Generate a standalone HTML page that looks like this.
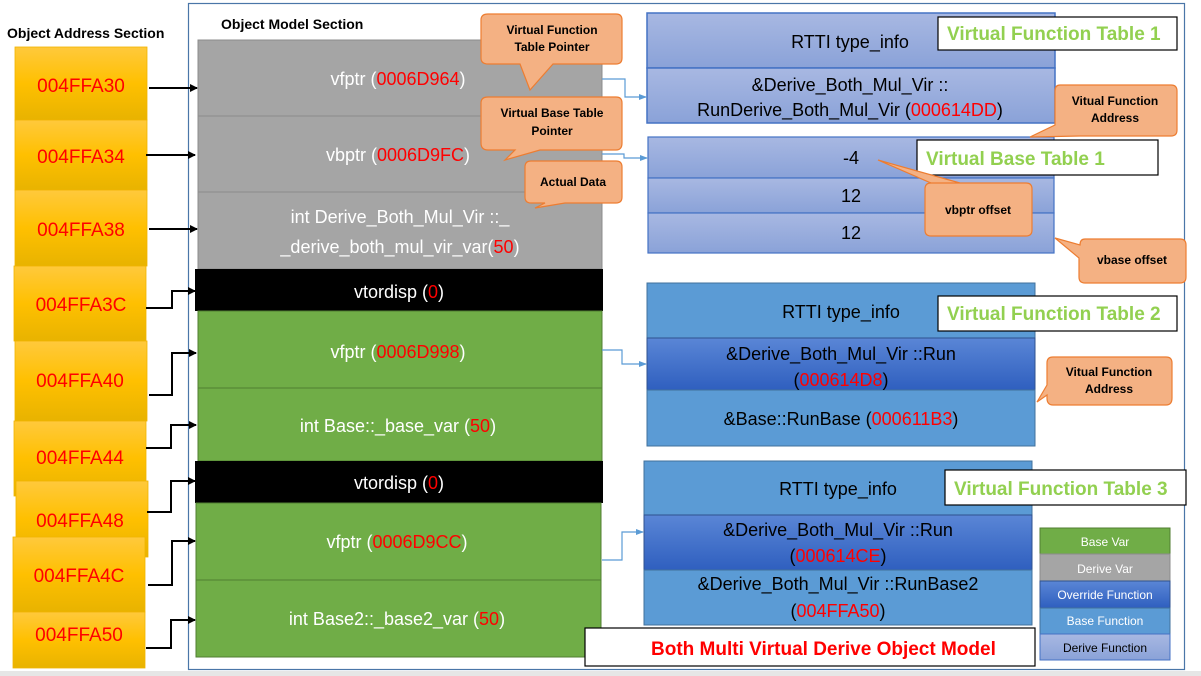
<!DOCTYPE html>
<html><head><meta charset="utf-8"><style>
body{margin:0;background:#fff;}
svg{display:block;font-family:"Liberation Sans",sans-serif;}
</style></head><body>
<svg width="1201" height="676" viewBox="0 0 1201 676" xmlns="http://www.w3.org/2000/svg">
<defs>
<linearGradient id="yel" x1="0" y1="0" x2="0" y2="1"><stop offset="0" stop-color="#ffc93c"/><stop offset="0.5" stop-color="#ffc000"/><stop offset="1" stop-color="#e8b300"/></linearGradient>
<linearGradient id="lav" x1="0" y1="0" x2="0" y2="1"><stop offset="0" stop-color="#a8b8e2"/><stop offset="1" stop-color="#8aa2d8"/></linearGradient>
<linearGradient id="dk" x1="0" y1="0" x2="0" y2="1"><stop offset="0" stop-color="#5a86d6"/><stop offset="1" stop-color="#2f5fbf"/></linearGradient>
<marker id="ab" markerWidth="8" markerHeight="8" refX="7" refY="4" orient="auto" markerUnits="userSpaceOnUse"><path d="M0,0 L8,4 L0,8 z" fill="#000"/></marker>
<marker id="ablue" markerWidth="8" markerHeight="8" refX="7" refY="4" orient="auto" markerUnits="userSpaceOnUse"><path d="M0,1 L8,4 L0,7 z" fill="#5b9bd5"/></marker>
</defs>
<rect x="0" y="0" width="1201" height="676" fill="#fff"/>
<rect x="188.5" y="3.5" width="996" height="666" fill="none" stroke="#4a76a8" stroke-width="1.2"/>
<rect x="0" y="671" width="1201" height="5" fill="#e6e6e6"/>

<text x="7" y="38" font-size="14" font-weight="bold">Object Address Section</text>
<text x="221" y="29" font-size="14" font-weight="bold">Object Model Section</text>

<g stroke="#f0b400" stroke-width="0.8" fill="url(#yel)">
<rect x="15" y="47" width="132" height="73"/>
<rect x="15" y="120" width="132" height="70"/>
<rect x="15" y="190" width="132" height="76"/>
<rect x="14" y="266" width="132" height="75"/>
<rect x="15" y="341" width="132" height="80"/>
<rect x="14" y="421" width="132" height="75"/>
<rect x="16" y="481" width="132" height="76"/>
<rect x="13" y="537" width="132" height="75"/>
<rect x="13" y="612" width="132" height="56"/>
</g>
<g fill="#ff0000" font-size="19" text-anchor="middle">
<text x="81" y="92">004FFA30</text>
<text x="81" y="163">004FFA34</text>
<text x="81" y="236">004FFA38</text>
<text x="81" y="311">004FFA3C</text>
<text x="80" y="387">004FFA40</text>
<text x="80" y="464">004FFA44</text>
<text x="80" y="527">004FFA48</text>
<text x="79" y="582">004FFA4C</text>
<text x="79" y="641">004FFA50</text>
</g>

<rect x="198" y="40" width="404" height="76" fill="#a5a5a5" stroke="#8c8c8c"/>
<rect x="198" y="116" width="404" height="76" fill="#a5a5a5" stroke="#8c8c8c"/>
<rect x="198" y="192" width="404" height="77" fill="#a5a5a5" stroke="#8c8c8c"/>
<rect x="195" y="269" width="408" height="42" fill="#000"/>
<rect x="198" y="311" width="404" height="77" fill="#70ad47" stroke="#507e32"/>
<rect x="198" y="388" width="404" height="73" fill="#70ad47" stroke="#507e32"/>
<rect x="195" y="461" width="408" height="42" fill="#000"/>
<rect x="196" y="503" width="405" height="77" fill="#70ad47" stroke="#507e32"/>
<rect x="196" y="580" width="405" height="77" fill="#70ad47" stroke="#507e32"/>
<g fill="#fff" font-size="18" text-anchor="middle">
<text x="398" y="85">vfptr (<tspan fill="#f00">0006D964</tspan>)</text>
<text x="398" y="161">vbptr (<tspan fill="#f00">0006D9FC</tspan>)</text>
<text x="400" y="223">int Derive_Both_Mul_Vir ::_</text>
<text x="400" y="253">_derive_both_mul_vir_var(<tspan fill="#f00">50</tspan>)</text>
<text x="399" y="298">vtordisp (<tspan fill="#f00">0</tspan>)</text>
<text x="398" y="358">vfptr (<tspan fill="#f00">0006D998</tspan>)</text>
<text x="398" y="432">int Base::_base_var (<tspan fill="#f00">50</tspan>)</text>
<text x="399" y="489">vtordisp (<tspan fill="#f00">0</tspan>)</text>
<text x="397" y="548">vfptr (<tspan fill="#f00">0006D9CC</tspan>)</text>
<text x="397" y="625">int Base2::_base2_var (<tspan fill="#f00">50</tspan>)</text>
</g>

<g stroke="#000" stroke-width="2" fill="none" marker-end="url(#ab)">
<path d="M149,88 H197"/>
<path d="M146,155 H195"/>
<path d="M149,229 H197"/>
<path d="M146,308 H172 V291 H195"/>
<path d="M149,395 H172 V353 H196"/>
<path d="M146,448 H171 V425 H196"/>
<path d="M147,512 H171 V481 H195"/>
<path d="M148,585 H172 V541 H195"/>
<path d="M146,648 H171 V620 H195"/>
</g>

<rect x="647" y="13" width="408" height="55" fill="url(#lav)" stroke="#4472c4" stroke-width="1.5"/>
<rect x="647" y="68" width="408" height="55" fill="url(#lav)" stroke="#4472c4" stroke-width="1.5"/>
<g font-size="18" text-anchor="middle" fill="#000">
<text x="850" y="48">RTTI type_info</text>
<text x="850" y="91">&amp;Derive_Both_Mul_Vir ::</text>
<text x="850" y="116">RunDerive_Both_Mul_Vir (<tspan fill="#f00">000614DD</tspan>)</text>
</g>
<rect x="648" y="137" width="406" height="41" fill="url(#lav)" stroke="#4472c4" stroke-width="1.2"/>
<rect x="648" y="178" width="406" height="35" fill="url(#lav)" stroke="#4472c4" stroke-width="1.2"/>
<rect x="648" y="213" width="406" height="40" fill="url(#lav)" stroke="#4472c4" stroke-width="1.2"/>
<g font-size="18" text-anchor="middle">
<text x="851" y="164">-4</text>
<text x="851" y="202">12</text>
<text x="851" y="239">12</text>
</g>
<rect x="647" y="283" width="388" height="55" fill="#5b9bd5" stroke="#41719c"/>
<rect x="647" y="338" width="388" height="52" fill="url(#dk)" stroke="#2f528f"/>
<rect x="647" y="390" width="388" height="56" fill="#5b9bd5" stroke="#41719c"/>
<g font-size="18" text-anchor="middle">
<text x="841" y="318">RTTI type_info</text>
<text x="841" y="360">&amp;Derive_Both_Mul_Vir ::Run</text>
<text x="841" y="386">(<tspan fill="#f00">000614D8</tspan>)</text>
<text x="841" y="425">&amp;Base::RunBase (<tspan fill="#f00">000611B3</tspan>)</text>
</g>
<rect x="644" y="461" width="388" height="54" fill="#5b9bd5" stroke="#41719c"/>
<rect x="644" y="515" width="388" height="55" fill="url(#dk)" stroke="#2f528f"/>
<rect x="644" y="570" width="388" height="55" fill="#5b9bd5" stroke="#41719c"/>
<g font-size="18" text-anchor="middle">
<text x="838" y="495">RTTI type_info</text>
<text x="838" y="536">&amp;Derive_Both_Mul_Vir ::Run</text>
<text x="838" y="562">(<tspan fill="#f00">000614CE</tspan>)</text>
<text x="838" y="590">&amp;Derive_Both_Mul_Vir ::RunBase2</text>
<text x="838" y="617">(<tspan fill="#f00">004FFA50</tspan>)</text>
</g>

<g stroke="#5b9bd5" stroke-width="1.2" fill="none" marker-end="url(#ablue)">
<path d="M602,79 H625 V97 H646"/>
<path d="M602,154 H624 V158 H647"/>
<path d="M602,350 H622 V364 H646"/>
<path d="M602,560 H622 V532 H643"/>
</g>

<g fill="#fff" stroke="#000" stroke-width="1.2">
<rect x="938" y="17" width="239" height="33"/>
<rect x="917" y="140" width="241" height="35"/>
<rect x="938" y="296" width="239" height="35"/>
<rect x="945" y="470" width="241" height="35"/>
<rect x="585" y="628" width="450" height="38"/>
</g>
<g fill="#92d050" font-size="19" font-weight="bold">
<text x="947" y="40">Virtual Function Table 1</text>
<text x="926" y="165">Virtual Base Table 1</text>
<text x="947" y="320">Virtual Function Table 2</text>
<text x="954" y="495">Virtual Function Table 3</text>
</g>
<text x="651" y="655" fill="#f00" font-size="19" font-weight="bold">Both Multi Virtual Derive Object Model</text>

<g fill="#f4b183" stroke="#ed7d31" stroke-width="1.2">
<path d="M488,14 H616 Q622,14 622,20 V58 Q622,64 616,64 H553 L530,90 L520,64 H488 Q481,64 481,58 V20 Q481,14 488,14 Z"/>
<path d="M488,97 H616 Q622,97 622,103 V143 Q622,150 616,150 H540 L505,160 L515,150 H488 Q481,150 481,143 V103 Q481,97 488,97 Z"/>
<path d="M531,161 H616 Q622,161 622,167 V197 Q622,203 616,203 H565 L535,208 L545,203 H531 Q525,203 525,197 V167 Q525,161 531,161 Z"/>
<path d="M1060,85 H1171 Q1177,85 1177,91 V130 Q1177,136 1171,136 H1080 L1030,137 L1055,125 V91 Q1055,85 1060,85 Z"/>
<path d="M931,183 H1026 Q1032,183 1032,189 V230 Q1032,236 1026,236 H931 Q925,236 925,230 V189 Q925,183 931,183 H960 L878,160 Z"/>
<path d="M1085,239 H1180 Q1186,239 1186,245 V277 Q1186,283 1180,283 H1085 Q1079,283 1079,277 V258 L1055,238 L1080,245 Q1080,239 1085,239 Z"/>
<path d="M1053,357 H1166 Q1172,357 1172,363 V398 Q1172,405 1166,405 H1053 Q1047,405 1047,398 V395 L1037,402 L1047,385 V363 Q1047,357 1053,357 Z"/>
</g>
<g font-size="12" font-weight="bold" text-anchor="middle" fill="#000">
<text x="552" y="34">Virtual Function</text>
<text x="552" y="51">Table Pointer</text>
<text x="552" y="117">Virtual Base Table</text>
<text x="552" y="135">Pointer</text>
<text x="573" y="186">Actual Data</text>
<text x="1115" y="105">Vitual Function</text>
<text x="1115" y="122">Address</text>
<text x="978" y="214">vbptr offset</text>
<text x="1132" y="264">vbase offset</text>
<text x="1109" y="376">Vitual Function</text>
<text x="1109" y="393">Address</text>
</g>

<rect x="1040" y="528" width="130" height="26" fill="#70ad47" stroke="#507e32"/>
<rect x="1040" y="554" width="130" height="27" fill="#a5a5a5" stroke="#8c8c8c"/>
<rect x="1040" y="581" width="130" height="27" fill="url(#dk)" stroke="#2f528f"/>
<rect x="1040" y="608" width="130" height="26" fill="#5b9bd5" stroke="#41719c"/>
<rect x="1040" y="634" width="130" height="26" fill="url(#lav)" stroke="#4472c4"/>
<g font-size="12" text-anchor="middle">
<text x="1105" y="546" fill="#fff">Base Var</text>
<text x="1105" y="573" fill="#fff">Derive Var</text>
<text x="1105" y="599" fill="#fff">Override Function</text>
<text x="1105" y="625" fill="#fff">Base Function</text>
<text x="1105" y="652" fill="#000">Derive Function</text>
</g>
</svg>
</body></html>
